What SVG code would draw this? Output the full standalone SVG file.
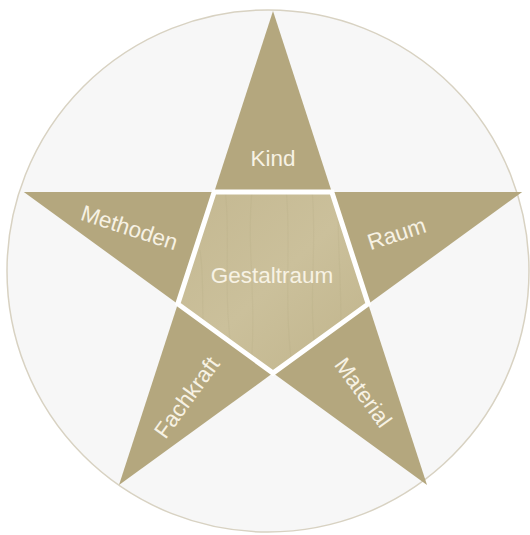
<svg xmlns="http://www.w3.org/2000/svg" width="530" height="535" viewBox="0 0 530 535">
  <defs>
    <style>
      .tri { fill: #B4A77E; }
      .lbl { font-family: "Liberation Sans", Arial, sans-serif; font-size: 22.5px; fill: #F7F2E4; text-anchor: middle; }
      .sep { fill: none; stroke: #FFFFFF; stroke-width: 5; stroke-linejoin: miter; }
      .grain { fill: none; stroke: #A89A70; stroke-opacity: 0.12; stroke-width: 1.2; }
    </style>
    <linearGradient id="wood" x1="0" y1="0" x2="1" y2="1">
      <stop offset="0" stop-color="#C4B891"/>
      <stop offset="0.5" stop-color="#CBC09B"/>
      <stop offset="1" stop-color="#C0B48B"/>
    </linearGradient>
    <clipPath id="pentClip">
      <polygon points="214.2,192 331.8,192 368.2,303.9 273,373.1 177.8,303.9"/>
    </clipPath>
  </defs>

  <rect x="0" y="0" width="530" height="535" fill="#FFFFFF"/>
  <circle cx="268" cy="271" r="261" fill="#F7F7F7" stroke="#D8D2C2" stroke-width="1.5"/>

  <g id="kind">
    <polygon class="tri" points="273,11 331.8,192 214.2,192"/>
    <text class="lbl" x="273" y="166">Kind</text>
  </g>

  <g id="raum">
    <polygon class="tri" points="522.2,192 368.2,303.9 331.8,192"/>
    <text class="lbl" x="399" y="241" transform="rotate(-18 399 241)">Raum</text>
  </g>

  <g id="material">
    <polygon class="tri" points="427,485 273,373.1 368.2,303.9"/>
    <text class="lbl" x="357" y="397" transform="rotate(54 357 397)">Material</text>
  </g>

  <g id="fachkraft">
    <polygon class="tri" points="119,485 177.8,303.9 273,373.1"/>
    <text class="lbl" x="193" y="402" transform="rotate(-54 193 402)">Fachkraft</text>
  </g>

  <g id="methoden">
    <polygon class="tri" points="23.8,192 214.2,192 177.8,303.9"/>
    <text class="lbl" x="127" y="235" transform="rotate(18 127 235)">Methoden</text>
  </g>

  <g id="gestaltraum">
    <polygon points="214.2,192 331.8,192 368.2,303.9 273,373.1 177.8,303.9" fill="url(#wood)"/>
    <g clip-path="url(#pentClip)">
      <path class="grain" d="M225,190 C232,240 220,300 236,380"/>
      <path class="grain" d="M252,190 C246,250 258,300 250,380"/>
      <path class="grain" d="M286,190 C292,240 282,310 294,380"/>
      <path class="grain" d="M312,190 C318,250 306,300 318,380"/>
      <path class="grain" d="M340,190 C334,240 346,290 338,380"/>
      <path class="grain" d="M200,250 C206,290 198,320 210,380"/>
    </g>
    <text class="lbl" x="272" y="283">Gestaltraum</text>
  </g>

  <g id="connectors">
    <polygon class="sep" points="214.2,192 331.8,192 368.2,303.9 273,373.1 177.8,303.9"/>
  </g>
</svg>
